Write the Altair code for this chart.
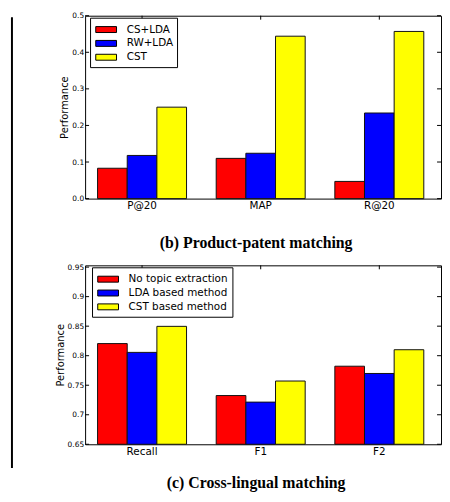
import altair as alt
import pandas as pd

# ---- data: (b) Product-patent matching ----
b_categories = ["P@20", "MAP", "R@20"]
b_series = ["CS+LDA", "RW+LDA", "CST"]
b_cs_lda = [0.083, 0.110, 0.047]
b_rw_lda = [0.118, 0.124, 0.234]
b_cst = [0.250, 0.444, 0.457]
b_yticks = [0.0, 0.1, 0.2, 0.3, 0.4, 0.5]
b_domain = [0.0, 0.5]

# ---- data: (c) Cross-lingual matching ----
c_categories = ["Recall", "F1", "F2"]
c_series = ["No topic extraction", "LDA based method", "CST based method"]
c_none = [0.8205, 0.7325, 0.7822]
c_lda = [0.8056, 0.7214, 0.7699]
c_cst = [0.8497, 0.7571, 0.8101]
c_yticks = [0.65, 0.7, 0.75, 0.8, 0.85, 0.9, 0.95]
c_domain = [0.65, 0.953]

colors = ["#ff0000", "#0000ff", "#ffff00"]

W = 360
LEG_SYMBOL = "M-0.83,-0.4 H1.97 V0.4 H-0.83 Z"


def panel(cats, series, values, yticks, domain, fmt, title, height,
          legend_x, legend_y, title_offset):
    rows = []
    for s, vals in zip(series, values):
        for c, v in zip(cats, vals):
            rows.append({"category": c, "series": s, "value": v})
    df = pd.DataFrame(rows)
    yscale = alt.Scale(domain=domain, nice=False, zero=False)
    xscale = alt.Scale(paddingInner=0.25, paddingOuter=0.125, align=0.42)
    x_axis = alt.Axis(title=None, labelAngle=0, ticks=False, domain=False,
                      grid=False, labelPadding=2, labelFontSize=10.5)
    y_axis = alt.Axis(title="Performance", values=yticks, format=fmt,
                      ticks=False, domain=False, grid=False,
                      labelPadding=1.5, labelFontSize=7.5,
                      titleFontSize=10, titleFontWeight="normal",
                      titlePadding=2)

    bars = alt.Chart(df).mark_bar(stroke="#111111", strokeWidth=1, opacity=1).encode(
        x=alt.X("category:N", sort=cats, scale=xscale, axis=x_axis),
        xOffset=alt.XOffset("series:N", sort=series,
                            scale=alt.Scale(paddingInner=0, paddingOuter=0)),
        y=alt.Y("value:Q", scale=yscale, axis=y_axis),
        y2=alt.datum(domain[0]),
        color=alt.Color("series:N", sort=series,
                        scale=alt.Scale(domain=series, range=colors),
                        legend=alt.Legend(title=None, orient="none",
                                          legendX=legend_x, legendY=legend_y,
                                          fillColor="white", strokeColor="black",
                                          padding=4, cornerRadius=0,
                                          symbolType=LEG_SYMBOL, symbolSize=225,
                                          symbolStrokeColor="black",
                                          symbolStrokeWidth=1, symbolOpacity=1,
                                          labelFontSize=10.5, labelOffset=17,
                                          rowPadding=0)),
    )

    tdf = pd.DataFrame({"value": yticks})
    left_ticks = alt.Chart(tdf).mark_rule(color="black", strokeWidth=1).encode(
        y=alt.Y("value:Q", scale=yscale, axis=y_axis),
        x=alt.value(0), x2=alt.value(4))
    right_ticks = alt.Chart(tdf).mark_rule(color="black", strokeWidth=1).encode(
        y=alt.Y("value:Q", scale=yscale, axis=y_axis),
        x=alt.value(W - 4), x2=alt.value(W))
    cdf = pd.DataFrame({"category": cats})
    top_ticks = alt.Chart(cdf).mark_rule(color="black", strokeWidth=1).encode(
        x=alt.X("category:N", sort=cats, scale=xscale, axis=x_axis),
        y=alt.value(0), y2=alt.value(4))

    return alt.layer(bars, left_ticks, right_ticks, top_ticks).properties(
        width=W, height=height,
        title=alt.TitleParams(title, orient="bottom", anchor="middle", frame="group",
                              offset=title_offset, dx=-7),
    )


top = panel(b_categories, b_series, [b_cs_lda, b_rw_lda, b_cst], b_yticks,
            b_domain, ".1f", "(b) Product-patent matching", 185, 5, 2, 24)
bottom = panel(c_categories, c_series, [c_none, c_lda, c_cst], c_yticks,
               c_domain, ".2~f", "(c) Cross-lingual matching", 181, 7, 2, 19)

panels = alt.vconcat(top, bottom, spacing=67.5, bounds="flush").resolve_scale(
    x="independent", y="independent", xOffset="independent", color="independent"
).resolve_legend(color="independent")

# page-side vertical rule at the left edge
side = alt.Chart(pd.DataFrame({"k": [0]})).mark_rule(
    color="black", strokeWidth=2).encode(
    x=alt.value(0), y=alt.value(1.5), y2=alt.value(457.5)
).properties(width=1, height=460,
             view=alt.ViewBackground(strokeWidth=0, stroke="transparent"))

chart = alt.hconcat(side, panels, spacing=73, bounds="flush").properties(
    padding={"left": 3, "top": 0, "right": 0, "bottom": 0}
).configure_view(stroke="black", strokeWidth=1).configure_axis(
    labelFont="DejaVu Sans", titleFont="DejaVu Sans",
    labelColor="black", titleColor="black"
).configure_legend(
    labelFont="DejaVu Sans", labelColor="black"
).configure_title(
    font="Liberation Serif", fontWeight="bold", fontSize=16, color="black"
)

chart.save("out.html", embed_options={"renderer": "svg", "actions": False})
